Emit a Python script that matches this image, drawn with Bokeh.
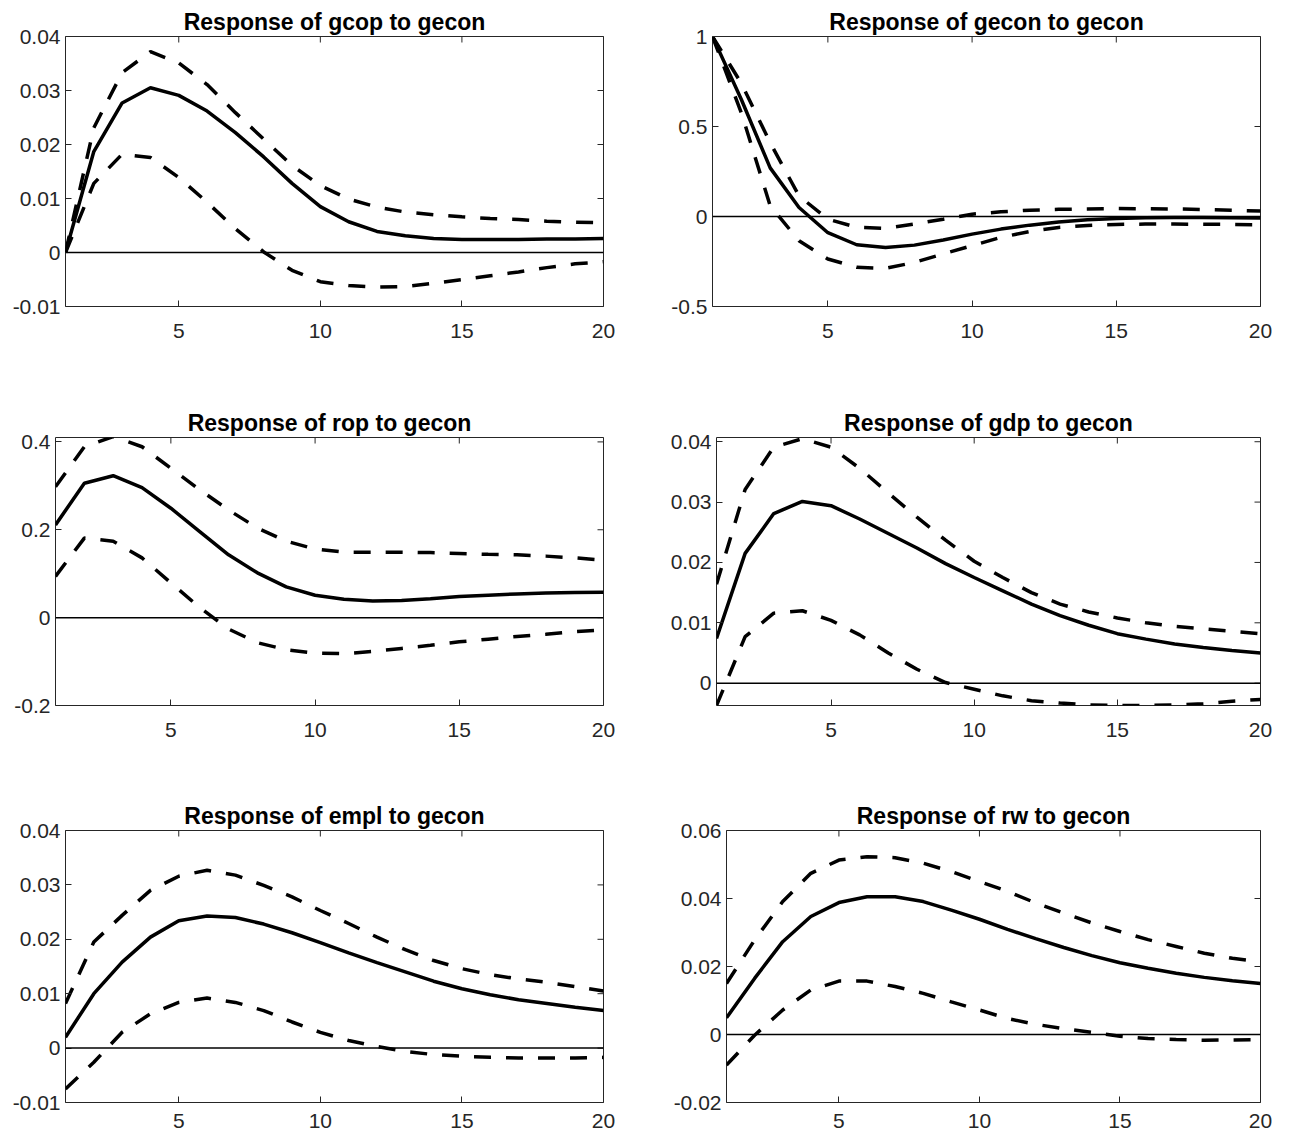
import math
from bokeh.plotting import figure
from bokeh.layouts import column, row
from bokeh.models import Span, FixedTicker, CustomJSTickFormatter, Range1d
from bokeh.embed import file_html
from bokeh.resources import INLINE

horizon = list(range(1, 21))

gcop_mid = [0.0, 0.0187, 0.0277, 0.0305, 0.0291, 0.0262, 0.0222, 0.0177, 0.0128, 0.0085,
            0.0057, 0.0039, 0.0031, 0.0026, 0.0024, 0.0024, 0.0024, 0.0025, 0.0025, 0.0026]
gcop_up = [0.0, 0.0231, 0.0333, 0.0372, 0.0351, 0.0311, 0.0259, 0.0210, 0.0161, 0.0124,
           0.0099, 0.0084, 0.0075, 0.0070, 0.0066, 0.0063, 0.0061, 0.0058, 0.0056, 0.0055]
gcop_lo = [0.0, 0.0128, 0.0182, 0.0176, 0.0139, 0.0093, 0.0044, 0.0001, -0.0033, -0.0054,
           -0.0061, -0.0064, -0.0063, -0.0057, -0.0050, -0.0043, -0.0036, -0.0028, -0.0021, -0.0017]

gecon_mid = [1.0, 0.65, 0.27, 0.05, -0.09, -0.157, -0.172, -0.159, -0.131, -0.098,
             -0.070, -0.048, -0.030, -0.018, -0.011, -0.007, -0.006, -0.006, -0.007, -0.009]
gecon_up = [1.0, 0.74, 0.41, 0.114, -0.015, -0.060, -0.066, -0.042, -0.015, 0.013,
            0.026, 0.035, 0.040, 0.042, 0.044, 0.043, 0.042, 0.039, 0.035, 0.030]
gecon_lo = [1.0, 0.576, 0.06, -0.135, -0.236, -0.282, -0.288, -0.255, -0.208, -0.162,
            -0.116, -0.083, -0.061, -0.050, -0.044, -0.042, -0.042, -0.043, -0.044, -0.046]

rop_mid = [0.211, 0.306, 0.323, 0.296, 0.249, 0.196, 0.143, 0.102, 0.070, 0.051,
           0.042, 0.038, 0.039, 0.043, 0.048, 0.051, 0.054, 0.056, 0.057, 0.058]
rop_up = [0.298, 0.389, 0.412, 0.389, 0.340, 0.291, 0.245, 0.204, 0.174, 0.156,
          0.149, 0.149, 0.149, 0.148, 0.146, 0.144, 0.143, 0.140, 0.136, 0.131]
rop_lo = [0.094, 0.181, 0.174, 0.136, 0.079, 0.023, -0.026, -0.057, -0.073, -0.081,
          -0.082, -0.077, -0.070, -0.063, -0.055, -0.049, -0.043, -0.038, -0.032, -0.028]

gdp_mid = [0.0074, 0.0215, 0.0281, 0.0301, 0.0294, 0.0272, 0.0248, 0.0224, 0.0198, 0.0175,
           0.0153, 0.0131, 0.0112, 0.0096, 0.0082, 0.0073, 0.0065, 0.0059, 0.0054, 0.0050]
gdp_up = [0.0164, 0.0321, 0.0391, 0.0405, 0.0391, 0.0356, 0.0315, 0.0275, 0.0237, 0.0202,
          0.0175, 0.0150, 0.0131, 0.0118, 0.0108, 0.0100, 0.0094, 0.0090, 0.0086, 0.0082]
gdp_lo = [-0.0037, 0.0077, 0.0116, 0.0120, 0.0104, 0.0080, 0.0050, 0.0023, 0.0001, -0.0010,
          -0.0021, -0.0029, -0.0033, -0.0036, -0.0037, -0.0037, -0.0036, -0.0034, -0.0030, -0.0027]

empl_mid = [0.0020, 0.0100, 0.0158, 0.0204, 0.0234, 0.0243, 0.0240, 0.0228, 0.0212, 0.0194,
            0.0175, 0.0157, 0.0140, 0.0123, 0.0109, 0.0098, 0.0089, 0.0082, 0.0075, 0.0069]
empl_up = [0.0082, 0.0195, 0.0244, 0.0290, 0.0316, 0.0327, 0.0318, 0.0299, 0.0278, 0.0253,
           0.0229, 0.0204, 0.0181, 0.0161, 0.0146, 0.0135, 0.0127, 0.0121, 0.0113, 0.0105]
empl_lo = [-0.0075, -0.0026, 0.0029, 0.0063, 0.0084, 0.0092, 0.0084, 0.0069, 0.0048, 0.0029,
           0.0014, 0.0003, -0.0006, -0.0012, -0.0015, -0.0017, -0.0018, -0.0018, -0.0018, -0.0017]

rw_mid = [0.0049, 0.0165, 0.0273, 0.0347, 0.0388, 0.0405, 0.0405, 0.0391, 0.0366, 0.0339,
          0.0309, 0.0282, 0.0256, 0.0232, 0.0211, 0.0195, 0.0180, 0.0168, 0.0158, 0.0150]
rw_up = [0.0150, 0.0278, 0.0391, 0.0474, 0.0513, 0.0523, 0.0520, 0.0504, 0.0479, 0.0450,
         0.0421, 0.0387, 0.0357, 0.0328, 0.0303, 0.0279, 0.0259, 0.0239, 0.0224, 0.0214]
rw_lo = [-0.0090, -0.0002, 0.0072, 0.0131, 0.0157, 0.0157, 0.0141, 0.0121, 0.0096, 0.0072,
         0.0047, 0.0030, 0.0017, 0.0006, -0.0005, -0.0012, -0.0015, -0.0017, -0.0016, -0.0015]

titles = ["Response of gcop to gecon", "Response of gecon to gecon",
          "Response of rop to gecon", "Response of gdp to gecon",
          "Response of empl to gecon", "Response of rw to gecon"]

x_ticks = [5, 10, 15, 20]
gcop_ticks = [-0.01, 0, 0.01, 0.02, 0.03, 0.04]
gecon_ticks = [-0.5, 0, 0.5, 1]
rop_ticks = [-0.2, 0, 0.2, 0.4]
gdp_ticks = [0, 0.01, 0.02, 0.03, 0.04]
empl_ticks = [-0.01, 0, 0.01, 0.02, 0.03, 0.04]
rw_ticks = [-0.02, 0, 0.02, 0.04, 0.06]

FONT = "Liberation Sans"
AX = "#262626"
fmt = CustomJSTickFormatter(code="return String(Math.round(tick*1e6)/1e6);")
X0, X1 = 1, 20


def style_axis(ax, standoff):
    ax.major_tick_in = 6
    ax.major_tick_out = 0
    ax.minor_tick_in = 0
    ax.minor_tick_out = 0
    ax.axis_line_color = None
    ax.major_tick_line_color = AX
    ax.major_tick_line_width = 1
    ax.major_label_text_font = FONT
    ax.major_label_text_color = AX
    ax.major_label_text_font_size = "21px"
    ax.major_label_standoff = standoff


def panel(title, mid, up, lo, yr, yticks, w, h, bl, br, bt, bb, xstand=17):
    p = figure(width=w, height=h, x_range=Range1d(X0, X1), y_range=Range1d(*yr),
               output_backend="svg", toolbar_location=None,
               min_border_left=bl, min_border_right=br, min_border_top=bt, min_border_bottom=bb)
    p.xgrid.visible = False
    p.ygrid.visible = False
    p.outline_line_color = AX
    p.outline_line_width = 1
    p.outline_line_alpha = 1

    p.xaxis.ticker = FixedTicker(ticks=x_ticks)
    p.xaxis.formatter = fmt
    p.yaxis.ticker = FixedTicker(ticks=yticks)
    p.yaxis.formatter = fmt
    style_axis(p.xaxis[0], xstand)
    style_axis(p.yaxis[0], 5)

    # box ticks on the top and right edges (half of each mark is clipped by the frame)
    p.scatter(x=x_ticks, y=[yr[1]] * len(x_ticks), marker="dash", angle=math.pi / 2,
              size=12, line_color=AX, line_width=1)
    p.scatter(x=[X1] * len(yticks), y=yticks, marker="dash",
              size=12, line_color=AX, line_width=1)

    p.title.text = title
    p.title.text_font = FONT
    p.title.text_font_size = "23px"
    p.title.text_font_style = "bold"
    p.title.text_color = "black"
    p.title.align = "center"
    p.title.standoff = 3

    p.add_layout(Span(location=0, dimension="width", line_color="black", line_width=1.5))
    p.line(horizon, up, line_color="black", line_width=3.5, line_dash="17 15")
    p.line(horizon, lo, line_color="black", line_width=3.5, line_dash="17 15")
    p.line(horizon, mid, line_color="black", line_width=3.5)
    return p


p1 = panel(titles[0], gcop_mid, gcop_up, gcop_lo, (-0.01, 0.04), gcop_ticks, 650, 392, 65, 47, 36, 86)
p2 = panel(titles[1], gecon_mid, gecon_up, gecon_lo, (-0.5, 1.0), gecon_ticks, 640, 392, 62, 30, 36, 86)
p3 = panel(titles[2], rop_mid, rop_up, rop_lo, (-0.2, 0.41), rop_ticks, 650, 400, 55, 47, 45, 87)
p4 = panel(titles[3], gdp_mid, gdp_up, gdp_lo, (-0.0037, 0.0407), gdp_ticks, 640, 400, 66, 30, 42, 85)
p5 = panel(titles[4], empl_mid, empl_up, empl_lo, (-0.01, 0.04), empl_ticks, 650, 344, 65, 47, 37, 34, 11)
p6 = panel(titles[5], rw_mid, rw_up, rw_lo, (-0.02, 0.06), rw_ticks, 640, 344, 76, 30, 38, 34, 11)

layout = column(row(p1, p2), row(p3, p4), row(p5, p6))
open("out.html", "w").write(file_html(layout, INLINE))
